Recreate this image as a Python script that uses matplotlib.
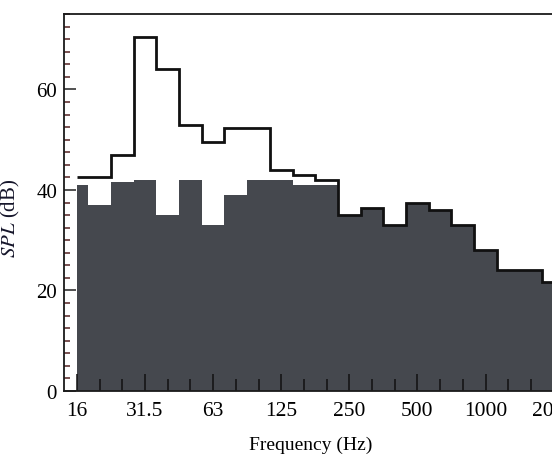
import numpy as np
import matplotlib
matplotlib.use("Agg")
import matplotlib.pyplot as plt

# Bandas de terço de oitava (Hz)
bandas = ['16', '20', '25', '31.5', '40', '50', '63', '80', '100', '125', '160',
          '200', '250', '315', '400', '500', '630', '800', '1000', '1250', '1600', '2000']
# Nível total medido (linha preta)
spl = [42.5, 42.5, 47, 70.5, 64, 53, 49.5, 52.3, 52.3, 44, 43,
       42, 35, 36.5, 33, 37.5, 36, 33, 28, 24, 24, 21.7]
# Ruído de fundo (área cinza)
fundo = [41, 37, 41.5, 42, 35, 42, 33, 39, 42, 42, 41,
         41, 35, 36.5, 33, 37.5, 36, 33, 28, 24, 24, 21.7]
rotulos_oitava = ['16', '31.5', '63', '125', '250', '500', '1000', '2000']

plt.rcParams['font.family'] = ['Liberation Serif', 'DejaVu Serif']
plt.rcParams['mathtext.fontset'] = 'stix'

n = len(bandas)
idx = np.arange(n)
bordas = np.arange(n + 1) - 0.5
bordas[0] = 0  # a primeira banda começa no centro de 16 Hz

fig = plt.figure(figsize=(5.52, 4.6), dpi=100)
ax = fig.add_axes([0.1159, 0.1478, 0.9076, 0.8196])

ax.stairs(fundo, bordas, fill=True, color='#45484e', baseline=0)
ax.stairs(spl, bordas, baseline=None, color='#111111', linewidth=2)

ax.set_xlim(-0.572, n - 0.5)
ax.set_ylim(0, 75)

pos_oitava = [idx[bandas.index(b)] for b in rotulos_oitava]
ax.set_xticks(pos_oitava)
ax.set_xticklabels(rotulos_oitava)
ax.set_xticks([i for i in idx if i not in pos_oitava], minor=True)
ax.set_yticks([0, 20, 40, 60])
ax.set_yticks(np.arange(0, 75.1, 2.5), minor=True)

ax.tick_params(axis='x', which='major', direction='in', length=12.2, width=1.1,
               labelsize=15.5, pad=7, color='#111111')
ax.tick_params(axis='x', which='minor', direction='in', length=8.6, width=1.1,
               color='#111111')
ax.tick_params(axis='y', which='major', direction='in', length=8.6, width=1.1,
               labelsize=15, pad=5, color='#222222')
ax.tick_params(axis='y', which='minor', direction='in', length=4.3, width=1.1,
               color='#552222')
ax.tick_params(top=False, right=False, which='both')

for s in ax.spines.values():
    s.set_linewidth(1.3)
    s.set_color('#1a1a1a')

ax.set_xlabel('Frequency (Hz)', fontsize=14)
ax.xaxis.set_label_coords((311 - 64) / (565 - 64), -0.118)
ax.set_ylabel(r'$\mathit{SPL}$ (dB)', fontsize=15, color='#15152a')
ax.yaxis.set_label_coords(-0.084, 0.46)

fig.savefig('out.png', dpi=100)
